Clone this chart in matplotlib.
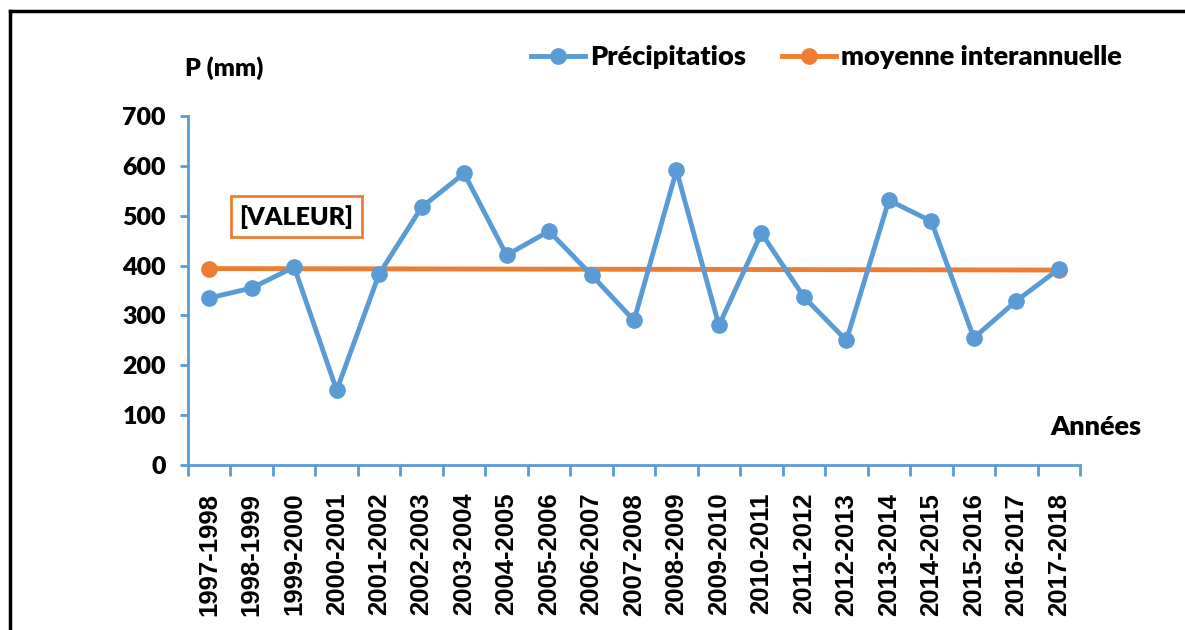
import matplotlib.pyplot as plt
from matplotlib.lines import Line2D

# data
seasons = ["1997-1998", "1998-1999", "1999-2000", "2000-2001", "2001-2002",
           "2002-2003", "2003-2004", "2004-2005", "2005-2006", "2006-2007",
           "2007-2008", "2008-2009", "2009-2010", "2010-2011", "2011-2012",
           "2012-2013", "2013-2014", "2014-2015", "2015-2016", "2016-2017",
           "2017-2018"]
precip = [335, 355, 397, 150, 383, 517, 585, 421, 469, 381, 290,
          591, 280, 465, 337, 250, 531, 489, 255, 329, 393]
mean_idx = [0, 20]
mean_vals = [394, 391]
y_ticks = [0, 100, 200, 300, 400, 500, 600, 700]

BLUE = "#5B9BD5"
ORANGE = "#ED7D31"
LABEL_FONT = "Lato"
TICK_FONT = "Liberation Sans"

fig = plt.figure(figsize=(11.85, 6.3), dpi=100)
ax = fig.add_axes([188 / 1185, 1 - 465 / 630, (1080 - 188) / 1185, (465 - 116) / 630])

x = list(range(len(seasons)))
ax.plot(mean_idx, mean_vals, color=ORANGE, lw=3.5, marker="o", ms=11, zorder=2)
ax.plot(x, precip, color=BLUE, lw=3.5, marker="o", ms=11, zorder=3)

ax.set_xlim(-0.5, len(seasons) - 0.5)
ax.set_ylim(0, 700)

# spines
for side in ("top", "right"):
    ax.spines[side].set_visible(False)
for side in ("left", "bottom"):
    ax.spines[side].set_color(BLUE)
    ax.spines[side].set_linewidth(2)

ax.set_yticks(y_ticks)
ax.set_yticklabels([str(v) for v in y_ticks], fontfamily=LABEL_FONT,
                   fontweight="heavy", fontsize=18)
ax.tick_params(axis="y", direction="out", length=6, width=2, color=BLUE, pad=10)

ax.set_xticks(x)
ax.set_xticklabels(seasons, rotation=90, fontfamily=TICK_FONT,
                   fontweight="bold", fontsize=18.5)
ax.tick_params(axis="x", which="major", length=0, pad=20)
ax.set_xticks([i - 0.5 for i in range(len(seasons) + 1)], minor=True)
ax.tick_params(axis="x", which="minor", direction="out", length=8, width=2, color=BLUE)

# axis titles
fig.text(185 / 1185, 1 - 68 / 630, "P (mm)", fontfamily=LABEL_FONT,
         fontweight="heavy", fontsize=18, va="center", ha="left")
fig.text(1050 / 1185, 1 - 427 / 630, "Années", fontfamily=LABEL_FONT,
         fontweight="heavy", fontsize=19.5, va="center", ha="left")

# data label placeholder
ax.text(2.05, 498, "[VALEUR]", fontfamily=LABEL_FONT, fontweight="heavy",
        fontsize=18, ha="center", va="center",
        bbox=dict(boxstyle="square,pad=0.35", fc="white", ec=ORANGE, lw=2))

# legend
handles = [Line2D([], [], color=BLUE, lw=3.5, marker="o", ms=11),
           Line2D([], [], color=ORANGE, lw=3.5, marker="o", ms=11)]
fig.legend(handles, ["Précipitatios", "moyenne interannuelle"], ncol=2,
           loc="center left", bbox_to_anchor=(512 / 1185, 1 - 57 / 630),
           frameon=False, handlelength=2.0, handletextpad=0.2, columnspacing=1.3,
           borderpad=0.2, prop=dict(family=LABEL_FONT, weight="heavy", size=19.5))

# outer border (left and top visible)
fig.add_artist(Line2D([10 / 1185, 10 / 1185], [0, 1 - 11 / 630], color="black", lw=2.5))
fig.add_artist(Line2D([10 / 1185, 1], [1 - 11 / 630, 1 - 11 / 630], color="black", lw=2.5))

fig.savefig("out.png", dpi=100)
